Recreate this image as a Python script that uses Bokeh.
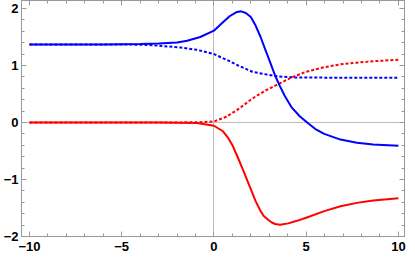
from bokeh.plotting import figure
from bokeh.models import LinearAxis, FixedTicker, Range1d
from bokeh.embed import file_html
from bokeh.resources import INLINE

# ---- data ----
blue_solid_x = [-10, -6, -4, -3, -2, -1.45, -0.74, 0, 0.49, 0.85, 1.20, 1.47, 1.73, 2.0, 2.26, 2.53,
                2.79, 3.06, 3.32, 3.59, 3.85, 4.2, 4.65, 5.09, 5.5, 5.98, 6.86, 7.75, 8.63, 10]
blue_solid_y = [1.37, 1.37, 1.375, 1.385, 1.405, 1.435, 1.50, 1.61, 1.76, 1.864, 1.933, 1.95, 1.92, 1.85, 1.70, 1.50,
                1.275, 1.046, 0.82, 0.63, 0.46, 0.27, 0.11, -0.01, -0.115, -0.20, -0.30, -0.355, -0.385, -0.41]

blue_dot_x = [-10, -5, -3.5, -1.8, -0.92, 0, 0.85, 1.38, 2.08, 2.79, 3.5, 4.4, 6, 8, 10]
blue_dot_y = [1.37, 1.37, 1.36, 1.315, 1.275, 1.20, 1.075, 0.99, 0.89, 0.846, 0.806, 0.79, 0.787, 0.787, 0.787]

red_solid_x = [-10, -3, -0.92, 0, 0.49, 0.75, 1.02, 1.29, 1.55, 1.91, 2.26, 2.53, 2.70, 2.97, 3.14, 3.32, 3.59,
               4.03, 4.5, 5.0, 5.98, 6.86, 7.75, 8.63, 10]
red_solid_y = [0, 0, -0.01, -0.057, -0.154, -0.26, -0.41, -0.61, -0.81, -1.10, -1.38, -1.555, -1.64, -1.715, -1.755,
               -1.78, -1.795, -1.77, -1.725, -1.67, -1.555, -1.47, -1.41, -1.37, -1.33]

red_dot_x = [-10, -3, -1, 0, 0.67, 1.38, 2.08, 2.79, 3.5, 4.2, 5.0, 5.97, 6.86, 7.75, 8.63, 10]
red_dot_y = [0, 0, 0.003, 0.017, 0.10, 0.246, 0.42, 0.56, 0.675, 0.79, 0.89, 0.97, 1.02, 1.05, 1.075, 1.10]

x_ticks = [-10, -5, 0, 5, 10]
y_ticks = [-2, -1, 0, 1, 2]
x_minor = list(range(-10, 11))
y_minor = [round(-2 + 0.2 * i, 1) for i in range(21)]
x_labels = {-10: "\u221210", -5: "\u22125", 0: "0", 5: "5", 10: "10"}
y_labels = {-2: "\u22122", -1: "\u22121", 0: "0", 1: "1", 2: "2"}

FRAME = "#999999"
ZERO = "#bdbdbd"
FONT = "Liberation Sans"

p = figure(width=407, height=256, output_backend="svg", toolbar_location=None,
           x_range=Range1d(-10.43, 10.33), y_range=Range1d(-2.0, 2.14),
           min_border_left=21, min_border_right=3, min_border_top=0, min_border_bottom=20,
           background_fill_color="white", border_fill_color="white")
p.outline_line_color = FRAME
p.outline_line_width = 1

def style_axis(ax, labels=None, show=True):
    ax.axis_line_color = FRAME
    ax.major_tick_line_color = FRAME
    ax.minor_tick_line_color = FRAME
    ax.major_tick_in = 5
    ax.major_tick_out = 0
    ax.minor_tick_in = 3
    ax.minor_tick_out = 0
    if show:
        ax.major_label_text_font = FONT
        ax.major_label_text_font_style = "bold"
        ax.major_label_text_font_size = "13px"
        ax.major_label_text_color = "black"
        ax.major_label_overrides = labels
    else:
        ax.major_label_text_color = None
        ax.major_label_standoff = 0

for ax in p.xaxis:
    ax.ticker = FixedTicker(ticks=x_ticks, minor_ticks=x_minor)
    style_axis(ax, x_labels)
    ax.major_label_standoff = 5
for ax in p.yaxis:
    ax.ticker = FixedTicker(ticks=y_ticks, minor_ticks=y_minor)
    style_axis(ax, y_labels)
    ax.major_label_standoff = 3

top = LinearAxis(ticker=FixedTicker(ticks=x_ticks, minor_ticks=x_minor))
style_axis(top, show=False)
p.add_layout(top, "above")
right = LinearAxis(ticker=FixedTicker(ticks=y_ticks, minor_ticks=y_minor))
style_axis(right, show=False)
p.add_layout(right, "right")

p.xgrid.ticker = FixedTicker(ticks=[0])
p.ygrid.ticker = FixedTicker(ticks=[0])
p.xgrid.grid_line_color = ZERO
p.ygrid.grid_line_color = ZERO
p.xgrid.grid_line_width = 1
p.ygrid.grid_line_width = 1

p.line(blue_dot_x, blue_dot_y, line_color="#0000ff", line_width=2, line_dash="3 2")
p.line(red_dot_x, red_dot_y, line_color="#ff0000", line_width=2, line_dash="3 2")
p.line(blue_solid_x, blue_solid_y, line_color="#0000ff", line_width=2, line_join="round")
p.line(red_solid_x, red_solid_y, line_color="#ff0000", line_width=2, line_join="round")

open("out.html", "w").write(file_html(p, INLINE))
